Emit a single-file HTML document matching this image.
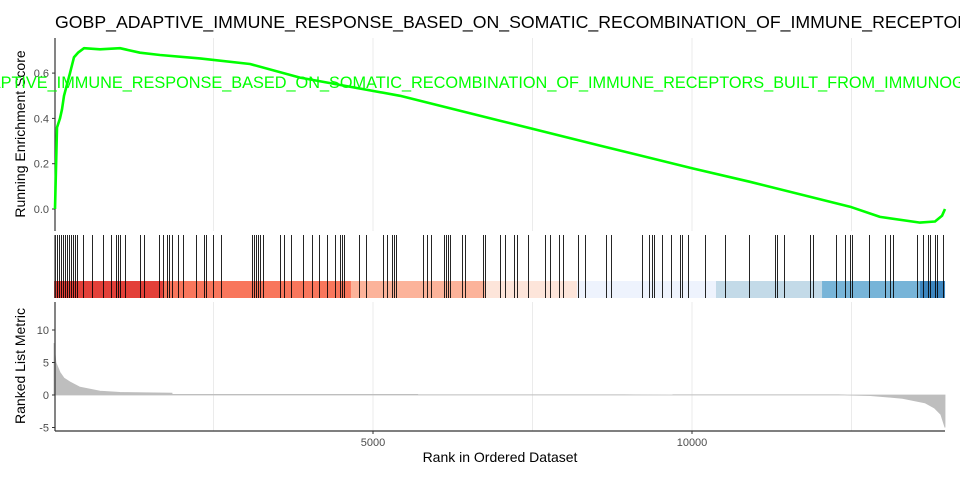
<!DOCTYPE html>
<html><head><meta charset="utf-8"><style>
html,body{margin:0;padding:0;background:#fff;}
svg{display:block;font-family:"Liberation Sans",sans-serif;}
</style></head><body>
<svg id="chart" width="960" height="480" viewBox="0 0 960 480"></svg>
<script>
// ---- data ----
const esRanks = [16,47,94,125,157,204,251,313,376,470,721,1034,1348,1661,2288,3072,3856,5423,6991,8558,10000,10909,12476,12947,13574,13809,13918,13966];
const esValues = [0,0.36,0.40,0.44,0.50,0.55,0.60,0.67,0.69,0.71,0.705,0.71,0.69,0.68,0.665,0.64,0.58,0.50,0.39,0.28,0.18,0.12,0.01,-0.035,-0.06,-0.055,-0.03,0.0];
const hitPx = [55,57,59,61,63,65,67,69,71,73,75,77,83,92,103,111,116,118,120,125,140,144,159,163,167,169,172,178,183,196,204,206,213,221,252,254,256,258,260,263,280,284,291,303,312,319,327,335,340,342,344,359,366,383,387,392,394,396,423,427,431,444,446,448,450,462,465,483,485,500,505,514,517,528,545,550,559,563,578,585,606,611,642,649,652,654,662,671,680,682,688,705,725,749,775,777,784,810,813,836,845,850,852,869,885,890,893,917,923,928,930,935,937,943];
const metricRanks = [0,15,30,94,157,251,408,721,1034,1850,1851,5700,5701,8950,9700,9701,12300,12800,13300,13650,13800,13900,13966];
const metricValues = [8,6.5,5,3.5,2.6,2.0,1.2,0.6,0.4,0.3,0.1,0.1,0.03,0.03,0.0,0.03,0.03,-0.1,-0.5,-1.2,-2.0,-3,-5];
const bandBreaks = [0,1708,4655,6755,8197,10376,12038,13574,13966];
const bandColors = ['#e34039','#f8765c','#fcb39a','#fde5da','#eef3fd','#c3dae8','#77b4d8','#3d86bf'];
const xTicks = [5000,10000];
const esTicks = [0,0.2,0.4,0.6];
const metricTicks = [10,5,0,-5];

const NS='http://www.w3.org/2000/svg';
const svg=document.getElementById('chart');
const X0=54, XS=0.0638;
const x = r => X0 + r*XS;
const rankFromPx = p => (p - X0)/XS;
const yES = v => 209 - v*226.5;
const yM = v => 395 - v*6.5;
function mk(tag, attrs, parent){const e=document.createElementNS(NS,tag);for(const k in attrs)e.setAttribute(k,attrs[k]);(parent||svg).appendChild(e);return e;}

// gridlines
[2500,5000,7500,10000,12500].forEach(r=>{
  let g=mk('line',{x1:x(r),x2:x(r),y1:38,y2:231,stroke:'#ebebeb','stroke-width':1});
  
  
  let g2=mk('line',{x1:x(r),x2:x(r),y1:302,y2:431,stroke:'#ebebeb','stroke-width':1});
  
  
});

// title
let t=mk('text',{x:55,y:28,'font-size':17.7,fill:'#000'});t.textContent='GOBP_ADAPTIVE_IMMUNE_RESPONSE_BASED_ON_SOMATIC_RECOMBINATION_OF_IMMUNE_RECEPTORS_BUILT_FROM_IMMUNOGLOBULIN_SUPERFAMILY_DOMAINS';



// ES axis
let ax=mk('line',{x1:55,x2:55,y1:38,y2:231,stroke:'#333','stroke-width':1.2});


esTicks.forEach(v=>{
  mk('line',{x1:52,x2:55,y1:yES(v),y2:yES(v),stroke:'#333'});
  let l=mk('text',{x:49,y:yES(v)+4,'font-size':11,fill:'#4d4d4d','text-anchor':'end'});l.textContent=v.toFixed(1);
  
  
});
let yt=mk('text',{x:0,y:0,'font-size':14,fill:'#000','text-anchor':'middle',transform:'translate(25,134) rotate(-90)'});yt.textContent='Running Enrichment Score';



// ES curve
let pts=esRanks.map((r,i)=>x(r).toFixed(1)+','+yES(esValues[i]).toFixed(1)).join(' ');
let es=mk('polyline',{points:pts,fill:'none',stroke:'#00ff00','stroke-width':2.6,'stroke-linejoin':'round'});



// green label
let gl=mk('text',{x:-89,y:88,'font-size':16.3,fill:'#00ff00'});gl.textContent='GOBP_ADAPTIVE_IMMUNE_RESPONSE_BASED_ON_SOMATIC_RECOMBINATION_OF_IMMUNE_RECEPTORS_BUILT_FROM_IMMUNOGLOBULIN_SUPERFAMILY_DOMAINS';



// color band
for(let i=0;i<bandColors.length;i++){
  let b=mk('rect',{x:x(bandBreaks[i]),y:281,width:x(bandBreaks[i+1])-x(bandBreaks[i]),height:17,fill:bandColors[i]});
  
  
}
// hits
hitPx.forEach(p=>{
  let r=rankFromPx(p);
  let xx=Math.round(x(r))+0.5;
  let h=mk('line',{x1:xx,x2:xx,y1:235,y2:298,stroke:'#000','stroke-width':1,'stroke-opacity':0.85,'shape-rendering':'crispEdges'});
  
  
});
let tl=mk('line',{x1:55,x2:55,y1:235,y2:298,stroke:'#333','stroke-width':1.2});



// metric area
let mp='M'+x(metricRanks[0])+','+yM(0)+' '+metricRanks.map((r,i)=>'L'+x(r).toFixed(1)+','+yM(metricValues[i]).toFixed(1)).join(' ')+' L'+x(metricRanks[metricRanks.length-1])+','+yM(0)+'Z';
let ma=mk('path',{d:mp,fill:'#bebebe',stroke:'#bebebe','stroke-width':0.8});



// metric axes
let ml=mk('line',{x1:55,x2:55,y1:302,y2:431,stroke:'#333','stroke-width':1.2});


let mb=mk('line',{x1:55,x2:945,y1:431,y2:431,stroke:'#333','stroke-width':1.2});


metricTicks.forEach(v=>{
  mk('line',{x1:52,x2:55,y1:yM(v),y2:yM(v),stroke:'#333'});
  let l=mk('text',{x:49,y:yM(v)+4,'font-size':11,fill:'#4d4d4d','text-anchor':'end'});l.textContent=v;
  
  
});
xTicks.forEach(v=>{
  mk('line',{x1:x(v),x2:x(v),y1:431,y2:434,stroke:'#333'});
  let l=mk('text',{x:x(v),y:446,'font-size':11,fill:'#4d4d4d','text-anchor':'middle'});l.textContent=v;
  
  
});
let my=mk('text',{x:0,y:0,'font-size':14,fill:'#000','text-anchor':'middle',transform:'translate(25,366) rotate(-90)'});my.textContent='Ranked List Metric';


let xt=mk('text',{x:500,y:462,'font-size':14,fill:'#000','text-anchor':'middle'});xt.textContent='Rank in Ordered Dataset';


</script>
</body></html>
